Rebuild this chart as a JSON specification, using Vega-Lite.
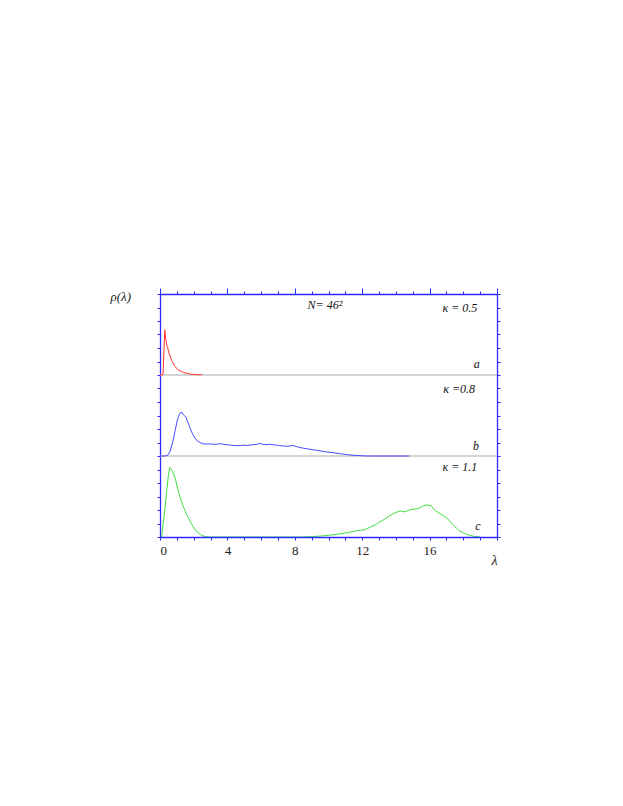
{
  "$schema": "https://vega.github.io/schema/vega-lite/v6.json",
  "width": 337,
  "height": 243,
  "autosize": {"type": "none"},
  "padding": {"left": 160, "top": 294, "right": 126, "bottom": 269},
  "background": "white",
  "config": {
    "view": {"stroke": null},
    "axis": {"domainColor": "#2b2bff", "tickColor": "#2b2bff", "domainWidth": 1.3, "tickWidth": 1, "grid": false, "labelFont": "Liberation Serif", "labelFontSize": 12, "labelColor": "#222", "titleFont": "Liberation Serif", "titleFontStyle": "italic", "titleFontWeight": "normal", "titleColor": "#222"}
  },
  "datasets": {
    "red": [
      {"lam": 0, "rho": 0}, {"lam": 0.1, "rho": 0}, {"lam": 0.18, "rho": 0.05}, {"lam": 0.24, "rho": 2.0}, {"lam": 0.28, "rho": 3.35},
      {"lam": 0.32, "rho": 2.9}, {"lam": 0.36, "rho": 2.55}, {"lam": 0.4, "rho": 2.2}, {"lam": 0.45, "rho": 2.05}, {"lam": 0.5, "rho": 1.8},
      {"lam": 0.55, "rho": 1.55}, {"lam": 0.6, "rho": 1.45}, {"lam": 0.65, "rho": 1.2}, {"lam": 0.7, "rho": 1.08}, {"lam": 0.75, "rho": 0.9},
      {"lam": 0.8, "rho": 0.88}, {"lam": 0.85, "rho": 0.7}, {"lam": 0.9, "rho": 0.64}, {"lam": 0.95, "rho": 0.53}, {"lam": 1.0, "rho": 0.48},
      {"lam": 1.1, "rho": 0.36}, {"lam": 1.2, "rho": 0.31}, {"lam": 1.3, "rho": 0.23}, {"lam": 1.4, "rho": 0.2}, {"lam": 1.5, "rho": 0.15},
      {"lam": 1.6, "rho": 0.13}, {"lam": 1.7, "rho": 0.09}, {"lam": 1.8, "rho": 0.08}, {"lam": 1.9, "rho": 0.05}, {"lam": 2.0, "rho": 0.05},
      {"lam": 2.2, "rho": 0.03}, {"lam": 2.4, "rho": 0.02}, {"lam": 2.5, "rho": 0.02}
    ],
    "blue": [
      {"lam": 0, "rho": 0}, {"lam": 0.3, "rho": 0}, {"lam": 0.45, "rho": 0.05}, {"lam": 0.6, "rho": 0.35}, {"lam": 0.75, "rho": 1.0},
      {"lam": 0.9, "rho": 1.9}, {"lam": 1.0, "rho": 2.5}, {"lam": 1.1, "rho": 2.95}, {"lam": 1.2, "rho": 3.2}, {"lam": 1.28, "rho": 3.25},
      {"lam": 1.35, "rho": 3.1}, {"lam": 1.45, "rho": 3.0}, {"lam": 1.55, "rho": 2.85}, {"lam": 1.65, "rho": 2.5}, {"lam": 1.75, "rho": 2.2},
      {"lam": 1.85, "rho": 1.85}, {"lam": 1.95, "rho": 1.6}, {"lam": 2.05, "rho": 1.38}, {"lam": 2.15, "rho": 1.2}, {"lam": 2.3, "rho": 1.05},
      {"lam": 2.45, "rho": 0.95}, {"lam": 2.6, "rho": 0.9}, {"lam": 2.8, "rho": 0.88}, {"lam": 3.0, "rho": 0.9}, {"lam": 3.2, "rho": 0.86},
      {"lam": 3.4, "rho": 0.88}, {"lam": 3.6, "rho": 0.92}, {"lam": 3.8, "rho": 0.85}, {"lam": 4.0, "rho": 0.83}, {"lam": 4.2, "rho": 0.8},
      {"lam": 4.4, "rho": 0.78}, {"lam": 4.6, "rho": 0.76}, {"lam": 4.8, "rho": 0.78}, {"lam": 5.0, "rho": 0.8}, {"lam": 5.2, "rho": 0.78},
      {"lam": 5.4, "rho": 0.82}, {"lam": 5.6, "rho": 0.85}, {"lam": 5.8, "rho": 0.88}, {"lam": 5.95, "rho": 0.93}, {"lam": 6.1, "rho": 0.86},
      {"lam": 6.3, "rho": 0.84}, {"lam": 6.5, "rho": 0.87}, {"lam": 6.7, "rho": 0.84}, {"lam": 6.9, "rho": 0.8}, {"lam": 7.1, "rho": 0.77},
      {"lam": 7.3, "rho": 0.75}, {"lam": 7.5, "rho": 0.72}, {"lam": 7.7, "rho": 0.74}, {"lam": 7.9, "rho": 0.78}, {"lam": 8.1, "rho": 0.7},
      {"lam": 8.3, "rho": 0.63}, {"lam": 8.5, "rho": 0.58}, {"lam": 8.7, "rho": 0.54}, {"lam": 8.9, "rho": 0.5}, {"lam": 9.1, "rho": 0.46},
      {"lam": 9.3, "rho": 0.42}, {"lam": 9.5, "rho": 0.38}, {"lam": 9.7, "rho": 0.34}, {"lam": 9.9, "rho": 0.3}, {"lam": 10.1, "rho": 0.27},
      {"lam": 10.3, "rho": 0.24}, {"lam": 10.5, "rho": 0.2}, {"lam": 10.7, "rho": 0.17}, {"lam": 10.9, "rho": 0.14}, {"lam": 11.1, "rho": 0.1},
      {"lam": 11.3, "rho": 0.07}, {"lam": 11.5, "rho": 0.05}, {"lam": 11.8, "rho": 0.03}, {"lam": 12.1, "rho": 0.01}, {"lam": 12.5, "rho": 0},
      {"lam": 14.8, "rho": 0}
    ],
    "green": [
      {"lam": 0.1, "rho": 0}, {"lam": 0.2, "rho": 1.1}, {"lam": 0.3, "rho": 2.2}, {"lam": 0.4, "rho": 3.4}, {"lam": 0.5, "rho": 4.6},
      {"lam": 0.58, "rho": 5.15}, {"lam": 0.65, "rho": 5.05}, {"lam": 0.75, "rho": 4.85}, {"lam": 0.85, "rho": 4.55}, {"lam": 0.95, "rho": 4.1},
      {"lam": 1.05, "rho": 3.6}, {"lam": 1.15, "rho": 3.1}, {"lam": 1.25, "rho": 2.75}, {"lam": 1.35, "rho": 2.35}, {"lam": 1.45, "rho": 2.05},
      {"lam": 1.55, "rho": 1.75}, {"lam": 1.65, "rho": 1.5}, {"lam": 1.75, "rho": 1.25}, {"lam": 1.85, "rho": 1.0}, {"lam": 1.95, "rho": 0.8},
      {"lam": 2.05, "rho": 0.6}, {"lam": 2.15, "rho": 0.45}, {"lam": 2.25, "rho": 0.32}, {"lam": 2.4, "rho": 0.18}, {"lam": 2.55, "rho": 0.08},
      {"lam": 2.7, "rho": 0.03}, {"lam": 2.9, "rho": 0}, {"lam": 8.5, "rho": 0}, {"lam": 9.0, "rho": 0.03}, {"lam": 9.5, "rho": 0.07},
      {"lam": 10.0, "rho": 0.12}, {"lam": 10.5, "rho": 0.2}, {"lam": 11.0, "rho": 0.3}, {"lam": 11.5, "rho": 0.42}, {"lam": 11.8, "rho": 0.5},
      {"lam": 12.1, "rho": 0.52}, {"lam": 12.3, "rho": 0.62}, {"lam": 12.5, "rho": 0.75}, {"lam": 12.8, "rho": 0.92}, {"lam": 13.0, "rho": 1.08},
      {"lam": 13.3, "rho": 1.3}, {"lam": 13.6, "rho": 1.55}, {"lam": 13.8, "rho": 1.7}, {"lam": 14.0, "rho": 1.82}, {"lam": 14.25, "rho": 1.93},
      {"lam": 14.5, "rho": 1.86}, {"lam": 14.7, "rho": 1.95}, {"lam": 14.95, "rho": 2.05}, {"lam": 15.2, "rho": 2.08}, {"lam": 15.4, "rho": 2.15},
      {"lam": 15.6, "rho": 2.3}, {"lam": 15.85, "rho": 2.38}, {"lam": 16.1, "rho": 2.3}, {"lam": 16.3, "rho": 2.0}, {"lam": 16.5, "rho": 1.82},
      {"lam": 16.8, "rho": 1.58}, {"lam": 17.1, "rho": 1.32}, {"lam": 17.4, "rho": 0.9}, {"lam": 17.6, "rho": 0.65}, {"lam": 17.8, "rho": 0.44},
      {"lam": 18.0, "rho": 0.3}, {"lam": 18.2, "rho": 0.2}, {"lam": 18.5, "rho": 0.08}, {"lam": 18.8, "rho": 0.02}, {"lam": 19.0, "rho": 0}
    ],
    "textA": [
      {"lam": 9.79, "rho": 4.89, "label": "N= 46²"},
      {"lam": 17.8, "rho": 4.69, "label": "κ = 0.5"},
      {"lam": 18.8, "rho": 0.54, "label": "a"}
    ],
    "textB": [
      {"lam": 17.75, "rho": 4.69, "label": "κ =0.8"},
      {"lam": 18.75, "rho": 0.44, "label": "b"}
    ],
    "textC": [
      {"lam": 17.8, "rho": 4.89, "label": "κ = 1.1"},
      {"lam": 18.87, "rho": 0.5, "label": "c"}
    ]
  },
  "layer": [
    {
      "data": {"values": [{"v": 0}]},
      "mark": {"type": "rule", "color": "#aaaaaa", "strokeWidth": 1},
      "encoding": {"y": {"field": "v", "type": "quantitative", "scale": {"domain": [-12, 6], "nice": false, "zero": false}, "axis": null}}
    },
    {
      "data": {"values": [{"v": 0}]},
      "mark": {"type": "rule", "color": "#aaaaaa", "strokeWidth": 1},
      "encoding": {"y": {"field": "v", "type": "quantitative", "scale": {"domain": [-6, 12], "nice": false, "zero": false}, "axis": null}}
    },
    {
      "data": {"name": "green"},
      "mark": {"type": "line", "color": "#3ee03e", "strokeWidth": 1},
      "encoding": {
        "x": {"field": "lam", "type": "quantitative", "scale": {"domain": [0, 20], "nice": false},
          "axis": {"orient": "bottom", "values": [0,1,2,3,4,5,6,7,8,9,10,11,12,13,14,15,16,17,18,19,20], "tickSize": 3, "labelExpr": "datum.value % 4 === 0 && datum.value < 20 ? datum.label : ''", "labelPadding": 4, "labelFontSize": 13, "title": "λ", "titleFontSize": 14, "titleX": 334, "titleY": 27, "titleAlign": "center", "titleBaseline": "alphabetic", "zindex": 1}},
        "y": {"field": "rho", "type": "quantitative", "scale": {"domain": [0, 18], "nice": false},
          "axis": {"orient": "left", "values": [0,1,2,3,4,5,6,7,8,9,10,11,12,13,14,15,16,17,18], "tickSize": 3, "labels": false, "title": "ρ(λ)", "titleAngle": 0, "titleX": -50, "titleY": 6, "titleAlign": "left", "titleBaseline": "alphabetic", "titleFontSize": 13}}
      }
    },
    {
      "data": {"name": "red"},
      "mark": {"type": "line", "color": "#ff3030", "strokeWidth": 1},
      "encoding": {
        "x": {"field": "lam", "type": "quantitative", "scale": {"domain": [0, 20], "nice": false},
          "axis": {"orient": "top", "values": [0,1,2,3,4,5,6,7,8,9,10,11,12,13,14,15,16,17,18,19,20], "tickSize": {"condition": {"test": "datum.value % 4 === 0", "value": 6}, "value": 3}, "labels": false, "title": null}},
        "y": {"field": "rho", "type": "quantitative", "scale": {"domain": [-12, 6], "nice": false, "zero": false}, "axis": null}
      }
    },
    {
      "data": {"name": "blue"},
      "mark": {"type": "line", "color": "#4848ff", "strokeWidth": 1},
      "encoding": {
        "x": {"field": "lam", "type": "quantitative", "scale": {"domain": [0, 20], "nice": false}, "axis": null},
        "y": {"field": "rho", "type": "quantitative", "scale": {"domain": [-6, 12], "nice": false, "zero": false}, "axis": null}
      }
    },
    {
      "data": {"name": "textA"},
      "mark": {"type": "text", "font": "Liberation Serif", "fontStyle": "italic", "fontSize": 12, "color": "#111", "baseline": "alphabetic", "align": "center"},
      "encoding": {
        "x": {"field": "lam", "type": "quantitative", "scale": {"domain": [0, 20], "nice": false}, "axis": null},
        "y": {"field": "rho", "type": "quantitative", "scale": {"domain": [-12, 6], "nice": false, "zero": false}, "axis": null},
        "text": {"field": "label"}
      }
    },
    {
      "data": {"name": "textB"},
      "mark": {"type": "text", "font": "Liberation Serif", "fontStyle": "italic", "fontSize": 12, "color": "#111", "baseline": "alphabetic", "align": "center"},
      "encoding": {
        "x": {"field": "lam", "type": "quantitative", "scale": {"domain": [0, 20], "nice": false}, "axis": null},
        "y": {"field": "rho", "type": "quantitative", "scale": {"domain": [-6, 12], "nice": false, "zero": false}, "axis": null},
        "text": {"field": "label"}
      }
    },
    {
      "data": {"name": "textC"},
      "mark": {"type": "text", "font": "Liberation Serif", "fontStyle": "italic", "fontSize": 12, "color": "#111", "baseline": "alphabetic", "align": "center"},
      "encoding": {
        "x": {"field": "lam", "type": "quantitative", "scale": {"domain": [0, 20], "nice": false}, "axis": null},
        "y": {"field": "rho", "type": "quantitative", "scale": {"domain": [0, 18], "nice": false},
          "axis": {"orient": "right", "values": [0,1,2,3,4,5,6,7,8,9,10,11,12,13,14,15,16,17,18], "tickSize": 3, "labels": false, "title": null}},
        "text": {"field": "label"}
      }
    }
  ],
  "resolve": {"scale": {"y": "independent"}, "axis": {"x": "independent", "y": "independent"}}
}
